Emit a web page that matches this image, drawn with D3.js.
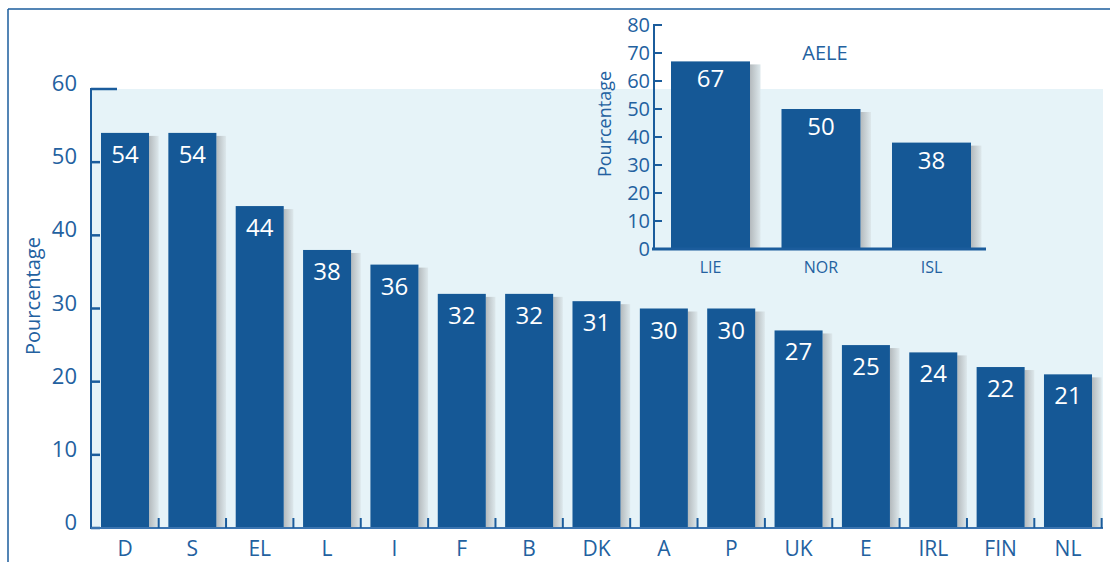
<!DOCTYPE html>
<html lang="fr">
<head>
    <meta charset="UTF-8">
    <title>Pourcentage par pays</title>
    <script src="https://d3js.org/d3.v7.min.js"></script>
    <style>
        body { margin: 0; background: #ffffff; }
        svg { display: block; font-family: "Open Sans", "Noto Sans", sans-serif; }
    </style>
</head>
<body>
    <div id="chart"></div>

    <script>
        // Main chart data (EU countries)
        const countries = ["D", "S", "EL", "L", "I", "F", "B", "DK", "A", "P", "UK", "E", "IRL", "FIN", "NL"];
        const values = [54, 54, 44, 38, 36, 32, 32, 31, 30, 30, 27, 25, 24, 22, 21];
        const yTicks = [0, 10, 20, 30, 40, 50, 60];

        // Inset data (AELE countries)
        const aeleCountries = ["LIE", "NOR", "ISL"];
        const aeleValues = [67, 50, 38];
        const aeleTicks = [0, 10, 20, 30, 40, 50, 60, 70, 80];

        const width = 1110, height = 562;
        const dark = "#1b5c9c";
        const textBlue = "#2361a0";
        const barColor = "#155896";

        const svg = d3.select("#chart").append("svg")
            .attr("width", width)
            .attr("height", height);

        // gradient used for bar shadows
        const defs = svg.append("defs");
        const grad = defs.append("linearGradient").attr("id", "shadow")
            .attr("x1", "0%").attr("x2", "100%").attr("y1", "0%").attr("y2", "0%");
        grad.append("stop").attr("offset", "0%").attr("stop-color", "#b4babd");
        grad.append("stop").attr("offset", "100%").attr("stop-color", "#dde8ec");

        // outer frame
        svg.append("line").attr("x1", 8).attr("x2", width).attr("y1", 9).attr("y2", 9)
            .attr("stroke", dark).attr("stroke-width", 1.5);
        svg.append("line").attr("x1", 8).attr("x2", 8).attr("y1", 9).attr("y2", height)
            .attr("stroke", dark).attr("stroke-width", 1.5);

        // ---------- main chart ----------
        const y = d3.scaleLinear().domain([0, 60]).range([528, 89]);
        const x = d3.scaleBand().domain(countries).range([101, 1092])
            .paddingInner(0.287).paddingOuter(0);
        const gap = x.step() - x.bandwidth();

        // light background
        svg.append("rect")
            .attr("x", 91).attr("y", y(60))
            .attr("width", 1103 - 91).attr("height", y(0) - y(60))
            .attr("fill", "#e6f3f8");

        // shadows to the right of bars
        svg.append("g").selectAll("rect")
            .data(values)
            .join("rect")
            .attr("x", (d, i) => x(countries[i]) + x.bandwidth())
            .attr("y", d => y(d) + 3)
            .attr("width", gap / 2)
            .attr("height", d => y(0) - y(d) - 3)
            .attr("fill", "url(#shadow)");

        svg.append("g").selectAll("rect")
            .data(values)
            .join("rect")
            .attr("x", (d, i) => x(countries[i]))
            .attr("y", d => y(d))
            .attr("width", x.bandwidth())
            .attr("height", d => y(0) - y(d))
            .attr("fill", barColor);

        // value labels
        svg.append("g").selectAll("text")
            .data(values)
            .join("text")
            .attr("x", (d, i) => x(countries[i]) + x.bandwidth() / 2)
            .attr("y", d => y(d) + 30)
            .attr("text-anchor", "middle")
            .attr("fill", "#ffffff")
            .attr("font-size", 24)
            .text(d => d);

        // y axis
        const yAxis = svg.append("g");
        yAxis.append("line").attr("x1", 91).attr("x2", 91).attr("y1", y(60) - 1).attr("y2", y(0) + 1)
            .attr("stroke", dark).attr("stroke-width", 2);
        yAxis.selectAll("line.tick")
            .data(yTicks)
            .join("line")
            .attr("class", "tick")
            .attr("x1", 91)
            .attr("x2", d => d === 60 ? 117 : 100)
            .attr("y1", d => y(d)).attr("y2", d => y(d))
            .attr("stroke", dark).attr("stroke-width", 2.5);
        yAxis.selectAll("text")
            .data(yTicks)
            .join("text")
            .attr("x", 77)
            .attr("y", d => y(d) + 2)
            .attr("text-anchor", "end")
            .attr("fill", textBlue)
            .attr("font-size", 22)
            .text(d => d);

        svg.append("text")
            .attr("transform", "translate(40,296) rotate(-90)")
            .attr("text-anchor", "middle")
            .attr("fill", textBlue)
            .attr("font-size", 20)
            .text("Pourcentage");

        // x axis
        svg.append("line").attr("x1", 91).attr("x2", 1103).attr("y1", y(0)).attr("y2", y(0))
            .attr("stroke", "#3b74b0").attr("stroke-width", 2);
        svg.append("g").selectAll("line")
            .data(countries)
            .join("line")
            .attr("x1", d => x(d) + x.bandwidth() + gap / 2)
            .attr("x2", d => x(d) + x.bandwidth() + gap / 2)
            .attr("y1", y(0)).attr("y2", y(0) - 10)
            .attr("stroke", dark).attr("stroke-width", 2);
        svg.append("g").selectAll("text")
            .data(countries)
            .join("text")
            .attr("x", d => x(d) + x.bandwidth() / 2)
            .attr("y", 556)
            .attr("text-anchor", "middle")
            .attr("fill", textBlue)
            .attr("font-size", 21)
            .text(d => d);

        // ---------- inset (AELE) ----------
        const yi = d3.scaleLinear().domain([0, 80]).range([249, 25]);
        const xi = d3.scaleBand().domain(aeleCountries).range([671, 971])
            .paddingInner(0.285).paddingOuter(0);
        const gapI = xi.step() - xi.bandwidth();

        svg.append("g").selectAll("rect")
            .data(aeleValues)
            .join("rect")
            .attr("x", (d, i) => xi(aeleCountries[i]) + xi.bandwidth())
            .attr("y", d => yi(d) + 3)
            .attr("width", gapI / 3)
            .attr("height", d => yi(0) - yi(d) - 3)
            .attr("fill", "url(#shadow)");

        svg.append("g").selectAll("rect")
            .data(aeleValues)
            .join("rect")
            .attr("x", (d, i) => xi(aeleCountries[i]))
            .attr("y", d => yi(d))
            .attr("width", xi.bandwidth())
            .attr("height", d => yi(0) - yi(d))
            .attr("fill", barColor);

        svg.append("g").selectAll("text")
            .data(aeleValues)
            .join("text")
            .attr("x", (d, i) => xi(aeleCountries[i]) + xi.bandwidth() / 2)
            .attr("y", d => yi(d) + 26)
            .attr("text-anchor", "middle")
            .attr("fill", "#ffffff")
            .attr("font-size", 24)
            .text(d => d);

        const yAxisI = svg.append("g");
        yAxisI.append("line").attr("x1", 654).attr("x2", 654).attr("y1", yi(80) - 1).attr("y2", yi(0) + 1)
            .attr("stroke", dark).attr("stroke-width", 2);
        yAxisI.selectAll("line.tick")
            .data(aeleTicks)
            .join("line")
            .attr("class", "tick")
            .attr("x1", 654).attr("x2", 662)
            .attr("y1", d => yi(d)).attr("y2", d => yi(d))
            .attr("stroke", dark).attr("stroke-width", 2);
        yAxisI.selectAll("text")
            .data(aeleTicks)
            .join("text")
            .attr("x", 650)
            .attr("y", d => yi(d) + 7)
            .attr("text-anchor", "end")
            .attr("fill", textBlue)
            .attr("font-size", 20)
            .text(d => d);

        svg.append("line").attr("x1", 652).attr("x2", 986).attr("y1", yi(0)).attr("y2", yi(0))
            .attr("stroke", dark).attr("stroke-width", 3);

        svg.append("g").selectAll("text")
            .data(aeleCountries)
            .join("text")
            .attr("x", d => xi(d) + xi.bandwidth() / 2)
            .attr("y", 273)
            .attr("text-anchor", "middle")
            .attr("fill", textBlue)
            .attr("font-size", 16)
            .text(d => d);

        svg.append("text")
            .attr("transform", "translate(611,124) rotate(-90)")
            .attr("text-anchor", "middle")
            .attr("fill", textBlue)
            .attr("font-size", 18)
            .text("Pourcentage");

        svg.append("text")
            .attr("x", 825).attr("y", 60)
            .attr("text-anchor", "middle")
            .attr("fill", textBlue)
            .attr("font-size", 20)
            .text("AELE");
    </script>
</body>
</html>
